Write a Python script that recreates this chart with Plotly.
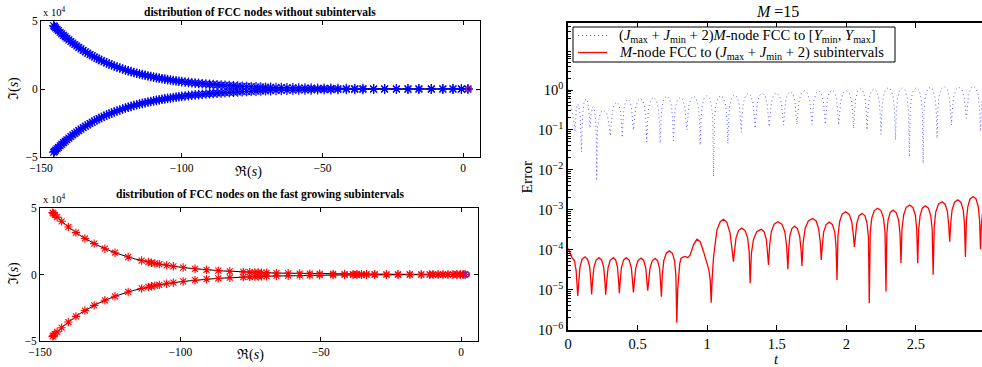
import plotly.graph_objects as go

SERIF = "Liberation Serif"

# ---------------- left panels: FCC nodes in the complex plane ----------------
# upper branch (Im > 0); the lower branch is its complex conjugate
nodes_re = [-145.5, -145.2, -144.8, -144.3, -143.8, -143.2, -142.6, -142.0, -141.4, -140.8,
            -140.1, -139.4, -138.7, -138.0, -137.3, -136.6, -135.8, -135.0, -134.2, -133.4,
            -132.6, -131.8, -131.0, -130.2,
            -129.4, -128.5, -127.6, -126.7, -125.8, -124.9, -124.0, -123.0, -122.0, -121.0,
            -120.0, -119.0, -118.0, -117.0, -116.0, -115.0, -114.0, -113.0, -112.0, -111.0,
            -110.0, -109.0, -108.0, -107.0, -106.0, -105.0, -104.0, -103.0, -102.0, -101.0, -100.0,
            -98.8, -97.6, -96.4, -95.2, -94.0, -92.7, -91.4, -90.1, -88.8, -87.4, -86.0, -84.6,
            -83.1, -81.6, -80.1, -78.5, -76.9, -75.3, -73.6, -71.9, -70.2,
            -68.4, -66.5, -64.6, -62.6, -60.5, -58.4, -56.2, -54.0, -51.7, -49.4, -47.0, -44.5,
            -41.5, -38.5, -35.6, -31.8, -27.9, -23.7, -19.6, -15.7, -11.3, -7.2, -3.6, -0.6, 1.7]
nodes_im = [46500, 45850, 44990, 43950, 42930, 41740, 40580, 39450, 38350, 37280,
            36080, 34910, 33780, 32690, 31630, 30610, 29480, 28390, 27340, 26330,
            25360, 24420, 23520, 22650,
            21810, 20910, 20050, 19220, 18430, 17670, 16940, 16150, 15410, 14700,
            14020, 13370, 12760, 12170, 11610, 11070, 10560, 10070, 9610, 9170,
            8740, 8340, 7960, 7590, 7240, 6910, 6590, 6280, 5990, 5720, 5450,
            5150, 4870, 4600, 4350, 4110, 3870, 3640, 3420, 3220, 3010, 2820, 2640,
            2460, 2290, 2140, 1980, 1840, 1700, 1570, 1450, 1340,
            1230, 1130, 1030, 940, 850, 770, 700, 630, 565, 507, 453, 403,
            350, 304, 265, 222, 185, 152, 125, 103, 82, 67, 56, 47, 40]

sub_re = [-145.5, -145.2, -144.7, -143.9, -142.3, -139.9, -137.2, -134.0, -130.7, -126.9,
          -123.3, -118.6, -113.8, -111.4, -110.3, -109.1, -107.5, -104.9, -102.5, -99.0,
          -94.8, -90.7, -86.5, -82.4, -77.6, -75.3, -73.5, -72.3, -71.1, -69.3,
          -65.8, -61.6, -57.5, -53.9, -50.4, -45.6, -41.5, -38.5, -37.1, -35.5,
          -33.7, -30.8, -26.6, -22.5, -18.3, -14.2, -11.2, -10.0, -8.2, -6.5,
          -4.7, -2.9, -1.5, -0.3, 0.7, 1.4]
sub_im = [46500, 45850, 44780, 43130, 40000, 35740, 31480, 27090, 23190, 19400,
          16380, 13130, 10470, 9360, 8890, 8400, 7790, 6900, 6160, 5230,
          4290, 3540, 2900, 2400, 1910, 1720, 1580, 1490, 1410, 1290,
          1100, 900, 740, 630, 530, 425, 350, 304, 285, 265,
          245, 212, 175, 143, 117, 96, 82, 78, 71, 65,
          60, 55, 51, 48, 46, 44]

pole_re = [2.0]
pole_im = [0.0]

# ---------------- right panel: error vs t (values read as log10) ----------------
t_full = [0.000, 0.010, 0.020, 0.030, 0.040, 0.046, 0.050, 0.054, 0.060, 0.070, 0.080, 0.088, 0.093,
          0.097, 0.101, 0.106, 0.115, 0.130, 0.143, 0.150, 0.155, 0.158, 0.162, 0.168, 0.180, 0.190,
          0.198, 0.203, 0.206,
          0.212, 0.221, 0.235, 0.255, 0.275, 0.290, 0.299, 0.305,
          0.310, 0.319, 0.332, 0.350, 0.366, 0.378, 0.385, 0.390,
          0.395, 0.402, 0.414, 0.430, 0.446, 0.458, 0.465, 0.470,
          0.476, 0.485, 0.500, 0.520, 0.538, 0.552, 0.560, 0.566,
          0.572, 0.580, 0.595, 0.614, 0.633, 0.648, 0.656, 0.662,
          0.668, 0.676, 0.691, 0.710, 0.729, 0.744, 0.752, 0.758,
          0.764, 0.772, 0.787, 0.806, 0.825, 0.840, 0.848, 0.854,
          0.860, 0.868, 0.883, 0.902, 0.921, 0.936, 0.944, 0.950,
          0.956, 0.964, 0.979, 0.998, 1.017, 1.032, 1.040, 1.046,
          1.052, 1.061, 1.077, 1.097, 1.118, 1.133, 1.143, 1.149,
          1.155, 1.163, 1.178, 1.197, 1.216, 1.231, 1.239, 1.245,
          1.251, 1.260, 1.275, 1.295, 1.315, 1.330, 1.339, 1.345,
          1.351, 1.360, 1.375, 1.395, 1.415, 1.431, 1.440, 1.446,
          1.452, 1.461, 1.477, 1.497, 1.518, 1.533, 1.543, 1.549,
          1.555, 1.563, 1.578, 1.597, 1.616, 1.631, 1.639, 1.645,
          1.651, 1.661, 1.677, 1.699, 1.721, 1.737, 1.747, 1.753,
          1.759, 1.767, 1.782, 1.801, 1.820, 1.835, 1.843, 1.849,
          1.855, 1.863, 1.878, 1.897, 1.916, 1.931, 1.939, 1.945,
          1.951, 1.961, 1.977, 1.999, 2.021, 2.037, 2.047, 2.053,
          2.059, 2.067, 2.082, 2.101, 2.120, 2.135, 2.143, 2.149,
          2.155, 2.164, 2.179, 2.199, 2.219, 2.234, 2.243, 2.249,
          2.255, 2.265, 2.280, 2.301, 2.322, 2.337, 2.347, 2.353,
          2.359, 2.368, 2.383, 2.403, 2.423, 2.438, 2.447, 2.453,
          2.459, 2.468, 2.482, 2.502, 2.522, 2.537, 2.546, 2.552,
          2.558, 2.567, 2.582, 2.602, 2.622, 2.637, 2.646, 2.652,
          2.658, 2.667, 2.683, 2.703, 2.724, 2.739, 2.749, 2.755,
          2.761, 2.771, 2.787, 2.809, 2.831, 2.847, 2.857, 2.863,
          2.869, 2.878, 2.893, 2.913, 2.933, 2.949, 2.958, 2.964,
          2.970, 2.978]
log_err_full = [0.02, -0.15, -0.33, -0.50, -0.70, -0.85, -1.05, -0.75, -0.45, -0.35, -0.42, -0.70, -1.00,
                -1.55, -1.00, -0.60, -0.32, -0.22, -0.30, -0.50, -0.72, -0.95, -0.75, -0.55, -0.42, -0.50,
                -0.75, -1.10, -2.27,
                -0.95, -0.75, -0.56, -0.50, -0.56, -0.75, -0.95, -1.15,
                -0.90, -0.55, -0.36, -0.30, -0.36, -0.55, -0.90, -1.19,
                -0.83, -0.48, -0.29, -0.23, -0.29, -0.48, -0.83, -1.00,
                -0.81, -0.46, -0.27, -0.21, -0.27, -0.46, -0.81, -1.30,
                -0.78, -0.43, -0.24, -0.18, -0.24, -0.43, -0.78, -1.33,
                -0.75, -0.40, -0.21, -0.15, -0.21, -0.40, -0.75, -1.27,
                -0.78, -0.43, -0.24, -0.18, -0.24, -0.43, -0.78, -1.00,
                -0.75, -0.40, -0.21, -0.15, -0.21, -0.40, -0.75, -1.38,
                -0.74, -0.39, -0.20, -0.14, -0.20, -0.39, -0.74, -2.17,
                -0.74, -0.39, -0.20, -0.14, -0.20, -0.39, -0.74, -1.34,
                -0.72, -0.37, -0.18, -0.12, -0.18, -0.37, -0.72, -1.06,
                -0.68, -0.33, -0.14, -0.08, -0.14, -0.33, -0.68, -0.96,
                -0.68, -0.33, -0.14, -0.08, -0.14, -0.33, -0.68, -0.92,
                -0.67, -0.32, -0.13, -0.07, -0.13, -0.32, -0.67, -0.88,
                -0.64, -0.29, -0.10, -0.04, -0.10, -0.29, -0.64, -0.86,
                -0.62, -0.27, -0.08, -0.02, -0.08, -0.27, -0.62, -0.86,
                -0.62, -0.27, -0.08, -0.02, -0.08, -0.27, -0.62, -0.86,
                -0.60, -0.25, -0.06, 0.00, -0.06, -0.25, -0.60, -0.88,
                -0.61, -0.26, -0.07, -0.01, -0.07, -0.26, -0.61, -0.96,
                -0.57, -0.22, -0.03, 0.03, -0.03, -0.22, -0.57, -1.00,
                -0.57, -0.22, -0.03, 0.03, -0.03, -0.22, -0.57, -1.11,
                -0.54, -0.19, 0.00, 0.06, 0.00, -0.19, -0.54, -1.25,
                -0.55, -0.20, -0.01, 0.05, -0.01, -0.20, -0.55, -1.67,
                -0.54, -0.19, 0.00, 0.06, 0.00, -0.19, -0.54, -1.84,
                -0.53, -0.18, 0.01, 0.07, 0.01, -0.18, -0.53, -1.21,
                -0.51, -0.16, 0.03, 0.09, 0.03, -0.16, -0.51, -0.88,
                -0.53, -0.18, 0.01, 0.07, 0.01, -0.18, -0.53, -0.71,
                -0.50, -0.15, 0.04, 0.10, 0.04, -0.15, -0.50, -1.04,
                -0.50, -0.20]

t_sub = [0.000, 0.014, 0.031, 0.046, 0.058, 0.070,
         0.076, 0.086, 0.101, 0.122, 0.141, 0.156, 0.164, 0.170,
         0.176, 0.186, 0.202, 0.223, 0.242, 0.257, 0.265, 0.271,
         0.278, 0.288, 0.304, 0.326, 0.343, 0.356, 0.364, 0.369,
         0.375, 0.384, 0.399, 0.419, 0.439, 0.455, 0.464, 0.470,
         0.477, 0.487, 0.503, 0.525, 0.544, 0.559, 0.567, 0.573,
         0.579, 0.589, 0.605, 0.626, 0.644, 0.658, 0.665, 0.671,
         0.678, 0.688, 0.706, 0.729, 0.750, 0.766, 0.775, 0.782,
         0.788, 0.795, 0.803, 0.812, 0.822, 0.842, 0.861, 0.878, 0.902, 0.926, 0.950, 0.974,
         0.998, 1.012, 1.022, 1.029,
         1.036, 1.046, 1.070, 1.094, 1.117, 1.141, 1.165, 1.182, 1.189,
         1.196, 1.207, 1.225, 1.249, 1.273, 1.291, 1.302, 1.309,
         1.318, 1.333, 1.356, 1.388, 1.409, 1.425, 1.434, 1.441,
         1.449, 1.461, 1.481, 1.508, 1.537, 1.558, 1.571, 1.580,
         1.586, 1.594, 1.609, 1.628, 1.649, 1.665, 1.675, 1.681,
         1.690, 1.704, 1.727, 1.758, 1.783, 1.801, 1.813, 1.820,
         1.827, 1.837, 1.855, 1.878, 1.900, 1.917, 1.926, 1.933,
         1.940, 1.952, 1.970, 1.995, 2.020, 2.039, 2.051, 2.058,
         2.065, 2.075, 2.091, 2.113, 2.134, 2.149, 2.159, 2.165,
         2.172, 2.183, 2.201, 2.225, 2.249, 2.267, 2.278, 2.285,
         2.291, 2.300, 2.315, 2.335, 2.358, 2.376, 2.386, 2.393,
         2.400, 2.412, 2.430, 2.455, 2.478, 2.496, 2.506, 2.513,
         2.520, 2.530, 2.546, 2.568, 2.590, 2.607, 2.617, 2.624,
         2.632, 2.643, 2.662, 2.688, 2.710, 2.727, 2.736, 2.743,
         2.750, 2.760, 2.778, 2.801, 2.823, 2.840, 2.849, 2.856,
         2.863, 2.873, 2.889, 2.911, 2.932, 2.948, 2.958, 2.964,
         2.970, 2.980]
log_err_sub = [-3.97, -4.09, -4.21, -4.27, -4.51, -5.16,
               -4.78, -4.43, -4.24, -4.18, -4.24, -4.43, -4.78, -5.12,
               -4.80, -4.45, -4.26, -4.20, -4.26, -4.45, -4.80, -5.13,
               -4.80, -4.45, -4.26, -4.20, -4.26, -4.45, -4.80, -5.09,
               -4.80, -4.45, -4.26, -4.20, -4.26, -4.45, -4.80, -5.07,
               -4.81, -4.46, -4.27, -4.21, -4.27, -4.46, -4.81, -5.03,
               -4.82, -4.47, -4.28, -4.22, -4.28, -4.47, -4.82, -5.18,
               -4.63, -4.28, -4.09, -4.03, -4.09, -4.28, -4.63, -5.83,
               -5.00, -4.60, -4.35, -4.22, -4.19, -4.17, -4.20, -4.13, -3.88, -3.74, -3.80, -4.05,
               -4.38, -4.50, -4.75, -5.33,
               -4.70, -4.18, -3.51, -3.30, -3.24, -3.31, -3.59, -4.13, -4.30,
               -4.06, -3.71, -3.52, -3.46, -3.52, -3.71, -4.06, -4.84,
               -4.09, -3.74, -3.55, -3.49, -3.55, -3.74, -4.09, -4.38,
               -3.90, -3.55, -3.36, -3.30, -3.36, -3.55, -3.90, -4.49,
               -4.01, -3.66, -3.47, -3.41, -3.47, -3.66, -4.01, -4.41,
               -3.82, -3.47, -3.28, -3.22, -3.28, -3.47, -3.82, -4.26,
               -3.91, -3.56, -3.37, -3.31, -3.37, -3.56, -3.91, -4.76,
               -3.65, -3.30, -3.11, -3.05, -3.11, -3.30, -3.65, -3.93,
               -3.69, -3.34, -3.15, -3.09, -3.15, -3.34, -3.69, -5.34,
               -3.56, -3.21, -3.02, -2.96, -3.02, -3.21, -3.56, -5.05,
               -3.61, -3.26, -3.07, -3.01, -3.07, -3.26, -3.61, -4.34,
               -3.48, -3.13, -2.94, -2.88, -2.94, -3.13, -3.48, -4.34,
               -3.50, -3.15, -2.96, -2.90, -2.96, -3.15, -3.50, -4.63,
               -3.40, -3.05, -2.86, -2.80, -2.86, -3.05, -3.40, -3.80,
               -3.35, -3.00, -2.81, -2.75, -2.81, -3.00, -3.35, -4.18,
               -3.27, -2.92, -2.73, -2.67, -2.73, -2.92, -3.27, -3.99,
               -3.40, -3.05]

legend_full = ("(<i>J</i><sub>max</sub> + <i>J</i><sub>min</sub> + 2)<i>M</i>-node FCC to "
               "[<i>Y</i><sub>min</sub>, <i>Y</i><sub>max</sub>]")
legend_sub = "<i>M</i>-node FCC to (<i>J</i><sub>max</sub> + <i>J</i><sub>min</sub> + 2) subintervals"

# ---------------- figure ----------------
W, H = 982, 367


def fx(p):
    return p / W


def fy(p):
    return 1 - p / H


err_full = [10 ** v for v in log_err_full]
err_sub = [10 ** v for v in log_err_sub]

contour_x = nodes_re + nodes_re[::-1]
contour_y = [-v for v in nodes_im] + nodes_im[::-1]

BLUE_DOT = "rgb(90,90,255)"

fig = go.Figure()
for ax in ("", "2"):
    fig.add_trace(go.Scatter(x=contour_x, y=contour_y, mode="lines",
                             line=dict(color="black", width=1),
                             xaxis="x" + ax, yaxis="y" + ax, showlegend=False, hoverinfo="skip"))

fig.add_trace(go.Scatter(x=nodes_re + nodes_re, y=nodes_im + [-v for v in nodes_im], mode="markers",
                         marker=dict(symbol="asterisk-open", size=8, color="blue",
                                     line=dict(color="blue", width=1.2)),
                         xaxis="x", yaxis="y", showlegend=False))
fig.add_trace(go.Scatter(x=sub_re + sub_re, y=sub_im + [-v for v in sub_im], mode="markers",
                         marker=dict(symbol="asterisk-open", size=7, color="red",
                                     line=dict(color="red", width=1.1)),
                         xaxis="x2", yaxis="y2", showlegend=False))
for ax in ("", "2"):
    fig.add_trace(go.Scatter(x=pole_re, y=pole_im, mode="markers",
                             marker=dict(symbol="circle-open", size=5, color="#9a1a9a",
                                         line=dict(color="#9a1a9a", width=1.6)),
                             xaxis="x" + ax, yaxis="y" + ax, showlegend=False))

fig.add_trace(go.Scatter(x=t_full, y=err_full, mode="lines", name=legend_full,
                         line=dict(color=BLUE_DOT, width=1, dash="1px,3px"),
                         xaxis="x3", yaxis="y3", showlegend=False))
fig.add_trace(go.Scatter(x=t_sub, y=err_sub, mode="lines", name=legend_sub,
                         line=dict(color="red", width=1.3),
                         xaxis="x3", yaxis="y3", showlegend=False))

tick_font_left = dict(family=SERIF, size=11.5, color="black")
tick_font_right = dict(family=SERIF, size=14.5, color="black")


def left_x(dom, anchor):
    return dict(domain=dom, anchor=anchor, range=[-150, 6], tickmode="array",
                tickvals=[-150, -100, -50, 0], ticktext=["−150", "−100", "−50", "0"],
                ticks="inside", ticklen=4, tickwidth=1, tickcolor="black",
                showline=True, linecolor="black", linewidth=1, mirror="ticks",
                showgrid=False, zeroline=False, automargin=False, tickfont=tick_font_left)


def left_y(dom, anchor):
    return dict(domain=dom, anchor=anchor, range=[-50000, 50000], tickmode="array",
                tickvals=[-50000, 0, 50000], ticktext=["−5", "0", "5"],
                ticks="inside", ticklen=4, tickwidth=1, tickcolor="black",
                showline=True, linecolor="black", linewidth=1, mirror="ticks",
                showgrid=False, zeroline=False, automargin=False, tickfont=tick_font_left)


minor_vals = [k * 10.0 ** e for e in range(-6, 2) for k in range(2, 10)]

fig.update_layout(
    width=W, height=H, margin=dict(l=0, r=0, t=0, b=0, autoexpand=False),
    paper_bgcolor="white", plot_bgcolor="white",
    xaxis=left_x([fx(41), fx(480)], "y"),
    yaxis=left_y([fy(157), fy(21)], "x"),
    xaxis2=left_x([fx(40), fx(478)], "y2"),
    yaxis2=left_y([fy(341), fy(208)], "x2"),
    xaxis3=dict(domain=[fx(568), 1.0], anchor="y3", range=[0, 2.975], tickmode="array",
                tickvals=[0, 0.5, 1, 1.5, 2, 2.5], ticktext=["0", "0.5", "1", "1.5", "2", "2.5"],
                ticks="inside", ticklen=5, tickwidth=1, tickcolor="black",
                showline=True, linecolor="black", linewidth=1.6, mirror="ticks",
                showgrid=False, zeroline=False, automargin=False, tickfont=tick_font_right),
    yaxis3=dict(domain=[fy(329.5), fy(23)], anchor="x3", type="log", range=[-6, 1.68],
                tickmode="array", tickvals=[1e-6, 1e-5, 1e-4, 1e-3, 1e-2, 1e-1, 1],
                ticktext=["10<sup>−6</sup>", "10<sup>−5</sup>", "10<sup>−4</sup>", "10<sup>−3</sup>",
                          "10<sup>−2</sup>", "10<sup>−1</sup>", "10<sup>0</sup>"],
                ticks="inside", ticklen=5, tickwidth=1, tickcolor="black",
                minor=dict(tickmode="array", tickvals=minor_vals, ticks="inside", ticklen=3,
                           tickwidth=1, tickcolor="black", showgrid=False),
                showline=True, linecolor="black", linewidth=1.6,
                showgrid=False, zeroline=False, automargin=False, tickfont=tick_font_right),
    showlegend=False,
)

# legend box drawn in paper coordinates (MATLAB-style compact legend)
LX0, LY0, LX1, LY1 = 573, 27, 895, 62
shapes = [
    dict(type="rect", xref="paper", yref="paper", x0=fx(LX0), x1=fx(LX1), y0=fy(LY1), y1=fy(LY0),
         line=dict(color="black", width=1), fillcolor="white", layer="above"),
    dict(type="line", xref="paper", yref="paper", x0=fx(578), x1=fx(607), y0=fy(35.5), y1=fy(35.5),
         line=dict(color=BLUE_DOT, width=1, dash="1px,3px"), layer="above"),
    dict(type="line", xref="paper", yref="paper", x0=fx(578), x1=fx(607), y0=fy(52.5), y1=fy(52.5),
         line=dict(color="red", width=1.3), layer="above"),
]
fig.update_layout(shapes=shapes)

ann = [
    dict(text=legend_full, x=fx(617), y=fy(35.5), xanchor="left",
         font=dict(family=SERIF, size=14.6, color="black")),
    dict(text=legend_sub, x=fx(617), y=fy(53.5), xanchor="left",
         font=dict(family=SERIF, size=14.6, color="black")),
    dict(text="<b>distribution of FCC nodes without subintervals</b>", x=fx(259.5), y=fy(12),
         font=dict(family=SERIF, size=11.5, color="black")),
    dict(text="<b>distribution of FCC nodes on the fast growing subintervals</b>", x=fx(259.5), y=fy(194.5),
         font=dict(family=SERIF, size=11.5, color="black")),
    dict(text="x 10<sup>4</sup>", x=fx(41), y=fy(11), xanchor="left",
         font=dict(family=SERIF, size=10.5, color="black")),
    dict(text="x 10<sup>4</sup>", x=fx(41), y=fy(198), xanchor="left",
         font=dict(family=SERIF, size=10.5, color="black")),
    dict(text="ℑ(<i>s</i>)", x=fx(14), y=fy(89), textangle=-90,
         font=dict(family=SERIF, size=14, color="black")),
    dict(text="ℑ(<i>s</i>)", x=fx(14), y=fy(274), textangle=-90,
         font=dict(family=SERIF, size=14, color="black")),
    dict(text="ℜ(<i>s</i>)", x=fx(248), y=fy(172), font=dict(family=SERIF, size=14, color="black")),
    dict(text="ℜ(<i>s</i>)", x=fx(250), y=fy(355), font=dict(family=SERIF, size=14, color="black")),
    dict(text="<i>M</i> =15", x=fx(777), y=fy(11), font=dict(family=SERIF, size=16, color="black")),
    dict(text="Error", x=fx(526), y=fy(176.5), textangle=-90,
         font=dict(family=SERIF, size=15.5, color="black")),
    dict(text="<i>t</i>", x=fx(776), y=fy(359), font=dict(family=SERIF, size=14.5, color="black")),
]
for a in ann:
    a.update(xref="paper", yref="paper", showarrow=False)
    a.setdefault("xanchor", "center")
    a.setdefault("yanchor", "middle")
fig.update_layout(annotations=ann)

# the page is shown in a window exactly the size of the figure: drop the default body margin
fig.write_html("out.html",
               config={"displayModeBar": False},
               post_script="document.body.style.margin='0';document.body.style.padding='0';"
                           "document.documentElement.style.overflow='hidden';")
